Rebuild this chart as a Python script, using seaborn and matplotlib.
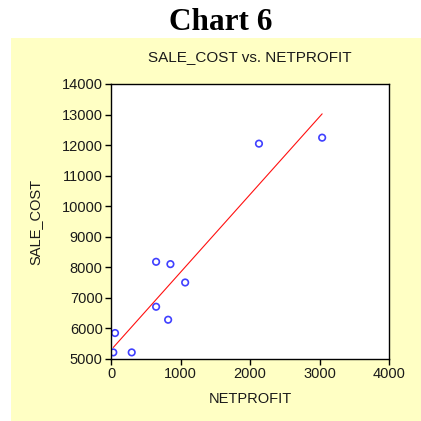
import matplotlib
matplotlib.use("Agg")
import matplotlib.pyplot as plt
import seaborn as sns
import pandas as pd
from matplotlib.patches import Rectangle

netprofit = [33, 58, 298, 649, 855, 1067, 649, 822, 2129, 3038]
sale_cost = [5216, 5850, 5216, 8181, 8105, 7504, 6710, 6285, 12048, 12244]
x_ticks = [0, 1000, 2000, 3000, 4000]
y_ticks = [5000, 6000, 7000, 8000, 9000, 10000, 11000, 12000, 13000, 14000]

df = pd.DataFrame({"NETPROFIT": netprofit, "SALE_COST": sale_cost})

sns.set_style("ticks")
plt.rcParams["font.family"] = ["Liberation Sans", "DejaVu Sans"]

fig = plt.figure(figsize=(4.21, 4.21), dpi=100)
fig.patch.set_facecolor("white")
bg = Rectangle((11 / 421, 0), 1.0, (421 - 38) / 421,
               transform=fig.transFigure, facecolor="#FFFFC4",
               edgecolor="none", zorder=-10)
fig.add_artist(bg)

ax = fig.add_axes([111 / 421, 1 - 359 / 421, 278 / 421, 275 / 421])
ax.set_zorder(1)
ax.set_facecolor("white")
sns.regplot(data=df, x="NETPROFIT", y="SALE_COST", ax=ax, ci=None, truncate=True,
            scatter_kws=dict(facecolors="none", edgecolors="#1010FF", s=22, linewidths=1.2),
            line_kws=dict(color="#FF1010", lw=0.8))

ax.set_xlim(0, 4000)
ax.set_ylim(5000, 14000)
ax.set_xticks(x_ticks)
ax.set_yticks(y_ticks)
ax.tick_params(axis="both", labelsize=10.5, length=4, width=1, color="black", pad=2,
               labelcolor="#1a1a1a")
for s in ax.spines.values():
    s.set_visible(True)
    s.set_color("black")
    s.set_linewidth(1)
ax.set_xlabel("NETPROFIT", fontsize=10.5, labelpad=8, color="#1a1a1a")
ax.set_ylabel("SALE_COST", fontsize=10.5, labelpad=14, color="#1a1a1a")
ax.set_title("SALE_COST vs. NETPROFIT", fontsize=11, pad=16.5, color="#1a1a1a")

fig.text(221 / 421, 1 - 30 / 421, "Chart 6", ha="center", va="baseline", color="black",
         fontsize=22.5, fontweight="bold", family=["Liberation Serif", "DejaVu Serif"])

fig.savefig("out.png", dpi=100)
